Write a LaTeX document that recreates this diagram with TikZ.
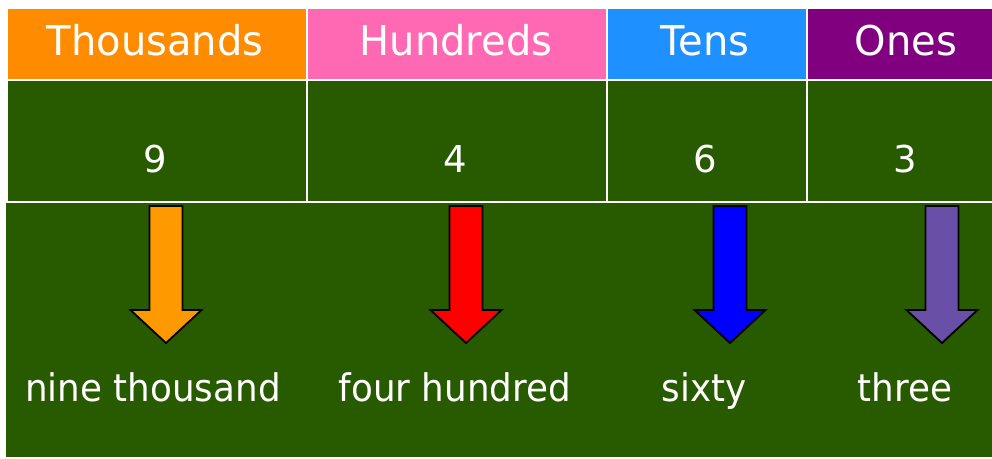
\documentclass[tikz,border=0pt]{standalone}
\usepackage{fontspec}
\setmainfont{DejaVu Sans}
\usepackage{graphicx}
\definecolor{cThou}{HTML}{FF8C00}
\definecolor{cHund}{HTML}{FF69B4}
\definecolor{cTens}{HTML}{1E90FF}
\definecolor{cOnes}{HTML}{800080}
\definecolor{cGreen}{HTML}{285A00}
\definecolor{aOrange}{HTML}{FF9900}
\definecolor{aRed}{HTML}{FF0000}
\definecolor{aBlue}{HTML}{0000FF}
\definecolor{aPurple}{HTML}{6A4FA8}
\tikzset{
  headtxt/.style={text=white, anchor=base, inner sep=0pt, font=\fontsize{41}{48}\selectfont},
  numtxt/.style={text=white, anchor=base, inner sep=0pt, font=\fontsize{37}{44}\selectfont},
  wordtxt/.style={text=white, anchor=base, inner sep=0pt, font=\fontsize{38}{44}\selectfont},
  bigarrow/.style={draw=black, line width=1.8pt, line join=miter},
}
\newcommand{\downarrowshape}[2]{% center x, fill colour
  \draw[bigarrow, fill=#2] (#1-16.5,206) -- (#1+16.5,206) -- (#1+16.5,310) -- (#1+35.5,310)
    -- (#1,343) -- (#1-35.5,310) -- (#1-16.5,310) -- cycle;}
\begin{document}
\begin{tikzpicture}[x=1pt,y=-1pt]
\fill[white] (0,0) rectangle (992,458);
\useasboundingbox (0,0) rectangle (992,458);
% header row
\fill[cThou] (8,9) rectangle (306,79);
\fill[cHund] (308,9) rectangle (606,79);
\fill[cTens] (608,9) rectangle (806,79);
\fill[cOnes] (808,9) rectangle (992,79);
% number row
\fill[cGreen] (8,81) rectangle (306,201);
\fill[cGreen] (308,81) rectangle (606,201);
\fill[cGreen] (608,81) rectangle (806,201);
\fill[cGreen] (808,81) rectangle (992,201);
% bottom panel
\fill[cGreen] (6,203) rectangle (992,457);
% header texts
\node[headtxt] (hT) at (155,55) {\scalebox{0.975}[1]{Thousands}};
\node[headtxt] (hH) at (456,55) {\scalebox{0.975}[1]{Hundreds}};
\node[headtxt] (hE) at (705,55) {\scalebox{0.975}[1]{Tens}};
\node[headtxt] (hO) at (906,55) {\scalebox{0.975}[1]{Ones}};
% numbers
\node[numtxt] (nT) at (155,172) {9};
\node[numtxt] (nH) at (455,172) {4};
\node[numtxt] (nE) at (705,172) {6};
\node[numtxt] (nO) at (905,172) {3};
% arrows
\downarrowshape{166}{aOrange}
\downarrowshape{466}{aRed}
\downarrowshape{730}{aBlue}
\downarrowshape{942}{aPurple}
% words
\node[wordtxt] (wT) at (153,401) {\scalebox{0.94}[1]{nine thousand}};
\node[wordtxt] (wH) at (455,401) {\scalebox{0.94}[1]{four hundred}};
\node[wordtxt] (wE) at (704,401) {\scalebox{0.94}[1]{sixty}};
\node[wordtxt] (wO) at (905,401) {\scalebox{0.94}[1]{three}};
\end{tikzpicture}
\end{document}
